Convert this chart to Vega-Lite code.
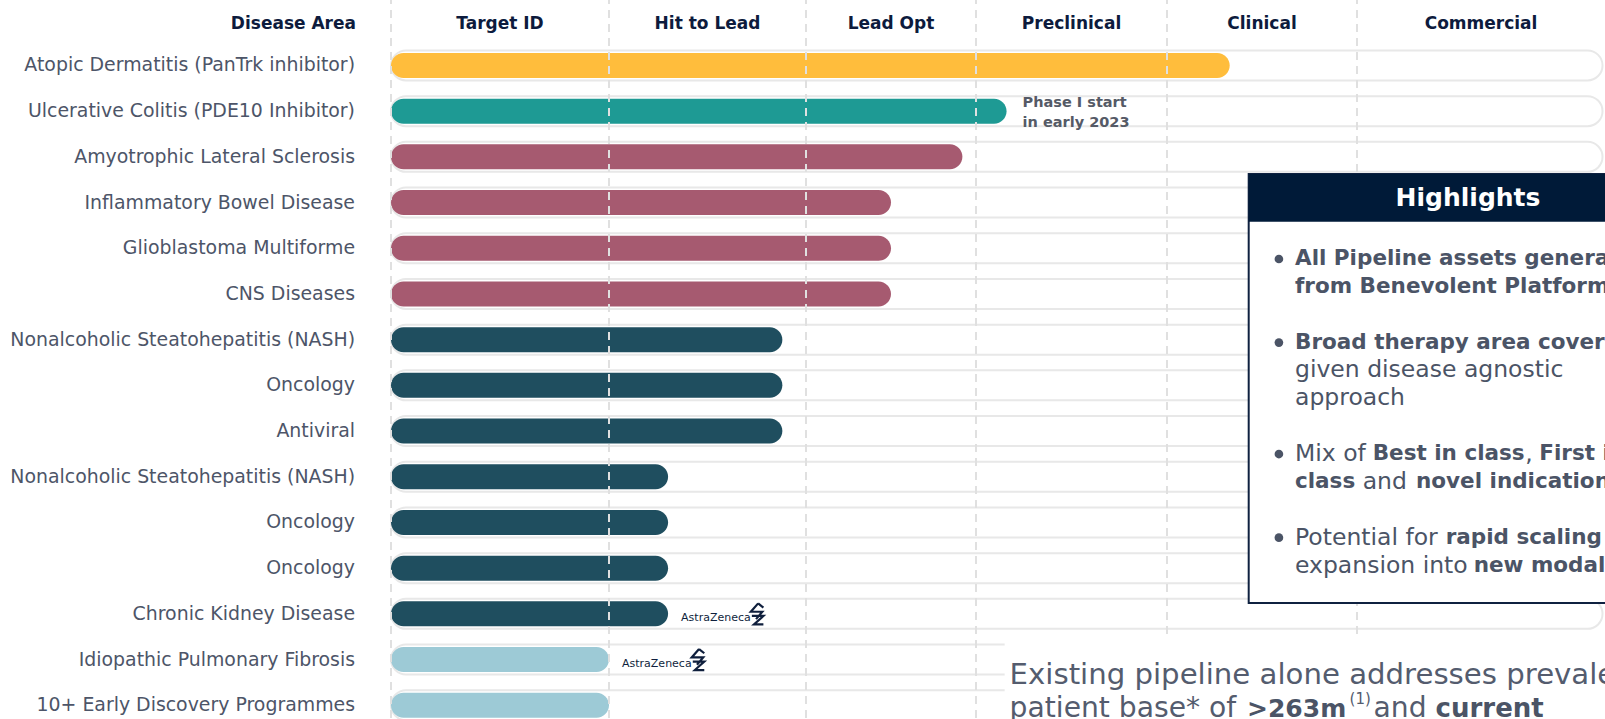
{
  "$schema": "https://vega.github.io/schema/vega-lite/v6.json",
  "autosize": {"type": "none"},
  "padding": {"left": 391, "top": 0, "right": 0, "bottom": 0},
  "width": 1214,
  "height": 719,
  "background": "white",
  "config": {"view": {"stroke": null}, "font": "DejaVu Sans", "axis": {"disable": true}},
  "datasets": {
    "pipeline": [
      {"id": "r01", "disease": "Atopic Dermatitis (PanTrk inhibitor)", "progress": 4.33, "cohort": "A"},
      {"id": "r02", "disease": "Ulcerative Colitis (PDE10 Inhibitor)", "progress": 3.16, "cohort": "B", "note": ["Phase I start", "in early 2023"]},
      {"id": "r03", "disease": "Amyotrophic Lateral Sclerosis", "progress": 2.92, "cohort": "C"},
      {"id": "r04", "disease": "Inflammatory Bowel Disease", "progress": 2.5, "cohort": "C"},
      {"id": "r05", "disease": "Glioblastoma Multiforme", "progress": 2.5, "cohort": "C"},
      {"id": "r06", "disease": "CNS Diseases", "progress": 2.5, "cohort": "C"},
      {"id": "r07", "disease": "Nonalcoholic Steatohepatitis (NASH)", "progress": 1.88, "cohort": "D"},
      {"id": "r08", "disease": "Oncology", "progress": 1.88, "cohort": "D"},
      {"id": "r09", "disease": "Antiviral", "progress": 1.88, "cohort": "D"},
      {"id": "r10", "disease": "Nonalcoholic Steatohepatitis (NASH)", "progress": 1.3, "cohort": "D"},
      {"id": "r11", "disease": "Oncology", "progress": 1.3, "cohort": "D"},
      {"id": "r12", "disease": "Oncology", "progress": 1.3, "cohort": "D"},
      {"id": "r13", "disease": "Chronic Kidney Disease", "progress": 1.3, "cohort": "D", "partner": "AstraZeneca"},
      {"id": "r14", "disease": "Idiopathic Pulmonary Fibrosis", "progress": 1.0, "cohort": "E", "partner": "AstraZeneca"},
      {"id": "r15", "disease": "10+ Early Discovery Programmes", "progress": 1.0, "cohort": "E"}
    ],
    "stages": [
      {"stage": "Target ID", "start": 0, "pos": 0.5},
      {"stage": "Hit to Lead", "start": 1, "pos": 1.5},
      {"stage": "Lead Opt", "start": 2, "pos": 2.5},
      {"stage": "Preclinical", "start": 3, "pos": 3.5},
      {"stage": "Clinical", "start": 4, "pos": 4.5},
      {"stage": "Commercial", "start": 5, "pos": 5.5}
    ],
    "rowHeader": [{"title": "Disease Area"}],
    "footer": [
      {"line": 1, "part": 1, "text": "Existing pipeline alone addresses prevalent"},
      {"line": 2, "part": 1, "text": "patient base* of"},
      {"line": 2, "part": 2, "text": ">263m"},
      {"line": 2, "part": 3, "text": "(1)"},
      {"line": 2, "part": 4, "text": "and"},
      {"line": 2, "part": 5, "text": "current"}
    ],
    "box": [{"title": "Highlights"}],
    "highlights": [
      {"ln": 0, "part": 1, "bold": true, "text": "All Pipeline assets generated"},
      {"ln": 1, "part": 1, "bold": true, "text": "from Benevolent Platform"},
      {"ln": 3, "part": 1, "bold": true, "text": "Broad therapy area coverage"},
      {"ln": 4, "part": 1, "bold": false, "text": "given disease agnostic"},
      {"ln": 5, "part": 1, "bold": false, "text": "approach"},
      {"ln": 7, "part": 1, "bold": false, "text": "Mix of"},
      {"ln": 7, "part": 2, "bold": true, "text": "Best in class"},
      {"ln": 7, "part": 3, "bold": false, "text": ","},
      {"ln": 7, "part": 4, "bold": true, "text": "First in"},
      {"ln": 8, "part": 1, "bold": true, "text": "class"},
      {"ln": 8, "part": 2, "bold": false, "text": "and"},
      {"ln": 8, "part": 3, "bold": true, "text": "novel indications"},
      {"ln": 10, "part": 1, "bold": false, "text": "Potential for"},
      {"ln": 10, "part": 2, "bold": true, "text": "rapid scaling and"},
      {"ln": 11, "part": 1, "bold": false, "text": "expansion into"},
      {"ln": 11, "part": 2, "bold": true, "text": "new modalities"}
    ]
  },
  "layer": [
    {
      "layer": [
        {
          "data": {"name": "pipeline"},
          "mark": {"type": "bar", "height": 30, "fill": "white", "stroke": "#e8e8e8", "strokeWidth": 2, "cornerRadiusEnd": 15},
          "encoding": {
            "x": {"datum": 0, "type": "quantitative", "axis": null, "scale": {"domain": [0, 1, 2, 3, 4, 5, 6], "range": [0, 218, 415, 585, 776, 966, 1214], "zero": false, "nice": false}},
            "x2": {"datum": 5.99},
            "y": {"field": "id", "type": "nominal", "sort": null, "axis": null, "scale": {"range": [42.6, 728.1], "paddingInner": 0, "paddingOuter": 0}}
          }
        },
        {
          "data": {"name": "pipeline"},
          "mark": {"type": "bar", "height": 25, "cornerRadiusEnd": 12.5},
          "encoding": {
            "x": {"field": "progress", "type": "quantitative", "axis": null},
            "x2": {"datum": 0},
            "y": {"field": "id", "type": "nominal", "sort": null, "axis": null},
            "color": {"field": "cohort", "type": "nominal", "legend": null, "scale": {"domain": ["A", "B", "C", "D", "E"], "range": ["#FFBD3C", "#1E9A94", "#A65A70", "#1F4E5F", "#9DCAD6"]}}
          }
        },
        {
          "data": {"name": "stages"},
          "mark": {"type": "rule", "color": "#e0e0e0", "strokeWidth": 2, "strokeDash": [8, 6], "strokeDashOffset": -10},
          "encoding": {"x": {"field": "start", "type": "quantitative"}}
        },
        {
          "data": {"name": "pipeline"},
          "mark": {"type": "text", "align": "right", "baseline": "middle", "dx": -36, "fontSize": 18.9, "font": "DejaVu Sans", "color": "#4d5568"},
          "encoding": {
            "x": {"datum": 0},
            "y": {"field": "id", "type": "nominal", "sort": null},
            "text": {"field": "disease", "type": "nominal"}
          }
        },
        {
          "data": {"name": "stages"},
          "mark": {"type": "text", "align": "center", "baseline": "middle", "dy": -41, "fontSize": 17, "fontWeight": "bold", "font": "DejaVu Sans", "color": "#0d1b3d"},
          "encoding": {
            "x": {"field": "pos", "type": "quantitative"},
            "y": {"datum": "r01"},
            "text": {"field": "stage", "type": "nominal"}
          }
        },
        {
          "data": {"name": "rowHeader"},
          "mark": {"type": "text", "align": "right", "baseline": "middle", "dx": -35, "dy": -41, "fontSize": 17, "fontWeight": "bold", "font": "DejaVu Sans", "color": "#0d1b3d"},
          "encoding": {
            "x": {"datum": 0},
            "y": {"datum": "r01"},
            "text": {"field": "title", "type": "nominal"}
          }
        },
        {
          "data": {"name": "pipeline"},
          "transform": [{"filter": "isValid(datum.note)"}],
          "mark": {"type": "text", "align": "left", "baseline": "middle", "dx": 16, "dy": -8.5, "fontSize": 14.5, "fontWeight": "bold", "lineHeight": 20.5, "font": "DejaVu Sans", "color": "#555a66"},
          "encoding": {
            "x": {"field": "progress", "type": "quantitative"},
            "y": {"field": "id", "type": "nominal", "sort": null},
            "text": {"field": "note"}
          }
        },
        {
          "data": {"name": "pipeline"},
          "transform": [{"filter": "isValid(datum.partner)"}],
          "mark": {"type": "text", "align": "left", "baseline": "middle", "dx": 13, "dy": 4, "fontSize": 11, "font": "DejaVu Sans", "color": "#0f1f3d"},
          "encoding": {
            "x": {"field": "progress", "type": "quantitative"},
            "y": {"field": "id", "type": "nominal", "sort": null},
            "text": {"field": "partner", "type": "nominal"}
          }
        },
        {
          "data": {"name": "pipeline"},
          "transform": [{"filter": "isValid(datum.partner)"}],
          "mark": {"type": "point", "filled": false, "size": 440, "strokeWidth": 2.2, "color": "#0f1f3d", "opacity": 1, "shape": "M0.1,-1 L-0.6,-0.2 L0.5,-0.2 L-0.1,0.5 M-0.5,0.2 L0.6,0.2 L-0.3,1 L0.6,1 M0.1,-1 L0.6,-0.6"},
          "encoding": {
            "x": {"field": "progress", "type": "quantitative"},
            "xOffset": {"value": 89},
            "y": {"field": "id", "type": "nominal", "sort": null}
          }
        },
        {
          "data": {"name": "pipeline"},
          "transform": [{"filter": "datum.id == 'r14' || datum.id == 'r15'"}],
          "mark": {"type": "rect", "fill": "white"},
          "encoding": {
            "x": {"datum": 3.15},
            "x2": {"datum": 6.4},
            "y": {"field": "id", "type": "nominal", "sort": null}
          }
        },
        {
          "data": {"name": "footer"},
          "transform": [{"filter": "datum.line == 1"}],
          "mark": {"type": "text", "align": "left", "baseline": "middle", "dx": 33.6, "dy": 15.4, "fontSize": 29.2, "font": "DejaVu Sans", "color": "#545c6e"},
          "encoding": {"x": {"datum": 3}, "y": {"datum": "r14"}, "text": {"field": "text", "type": "nominal"}}
        },
        {
          "data": {"name": "footer"},
          "transform": [{"filter": "datum.line == 2 && datum.part == 1"}],
          "mark": {"type": "text", "align": "left", "baseline": "middle", "dx": 33.6, "dy": 4, "fontSize": 28.2, "font": "DejaVu Sans", "color": "#545c6e"},
          "encoding": {"x": {"datum": 3}, "y": {"datum": "r15"}, "text": {"field": "text", "type": "nominal"}}
        },
        {
          "data": {"name": "footer"},
          "transform": [{"filter": "datum.line == 2 && datum.part == 2"}],
          "mark": {"type": "text", "align": "left", "baseline": "middle", "dx": 271, "dy": 4, "fontSize": 25, "fontWeight": "bold", "font": "DejaVu Sans", "color": "#4b5466"},
          "encoding": {"x": {"datum": 3}, "y": {"datum": "r15"}, "text": {"field": "text", "type": "nominal"}}
        },
        {
          "data": {"name": "footer"},
          "transform": [{"filter": "datum.line == 2 && datum.part == 3"}],
          "mark": {"type": "text", "align": "left", "baseline": "middle", "dx": 373.6, "dy": -6, "fontSize": 15, "font": "DejaVu Sans", "color": "#545c6e"},
          "encoding": {"x": {"datum": 3}, "y": {"datum": "r15"}, "text": {"field": "text", "type": "nominal"}}
        },
        {
          "data": {"name": "footer"},
          "transform": [{"filter": "datum.line == 2 && datum.part == 4"}],
          "mark": {"type": "text", "align": "left", "baseline": "middle", "dx": 397.6, "dy": 4, "fontSize": 28.2, "font": "DejaVu Sans", "color": "#545c6e"},
          "encoding": {"x": {"datum": 3}, "y": {"datum": "r15"}, "text": {"field": "text", "type": "nominal"}}
        },
        {
          "data": {"name": "footer"},
          "transform": [{"filter": "datum.line == 2 && datum.part == 5"}],
          "mark": {"type": "text", "align": "left", "baseline": "middle", "dx": 459.6, "dy": 4, "fontSize": 26, "fontWeight": "bold", "font": "DejaVu Sans", "color": "#4b5466"},
          "encoding": {"x": {"datum": 3}, "y": {"datum": "r15"}, "text": {"field": "text", "type": "nominal"}}
        }
      ]
    },
    {
      "layer": [
        {
          "data": {"name": "box"},
          "mark": {"type": "rect", "fill": "white", "stroke": "#0f2140", "strokeWidth": 2},
          "encoding": {
            "x": {"datum": 4.43},
            "x2": {"datum": 6.4},
            "y": {"datum": -3.05, "type": "quantitative", "axis": null, "scale": {"domain": [0, 11], "range": [259, 565.5], "zero": false, "nice": false}},
            "y2": {"datum": 12.35}
          }
        },
        {
          "data": {"name": "box"},
          "mark": {"type": "rect", "fill": "#001a38"},
          "encoding": {
            "x": {"datum": 4.43},
            "x2": {"datum": 6.4},
            "y": {"datum": -3.05, "type": "quantitative"},
            "y2": {"datum": -1.34}
          }
        },
        {
          "data": {"name": "box"},
          "mark": {"type": "text", "align": "center", "baseline": "middle", "dx": 219.3, "fontSize": 25, "fontWeight": "bold", "font": "DejaVu Sans", "color": "white"},
          "encoding": {
            "x": {"datum": 4.43},
            "y": {"datum": -2.2, "type": "quantitative"},
            "text": {"field": "title", "type": "nominal"}
          }
        },
        {
          "data": {"name": "highlights"},
          "transform": [{"filter": "datum.part == 1 && (datum.ln == 0 || datum.ln == 3 || datum.ln == 7 || datum.ln == 10)"}],
          "mark": {"type": "point", "filled": true, "size": 75, "color": "#4b5466", "opacity": 1},
          "encoding": {
            "x": {"datum": 4.589},
            "y": {"field": "ln", "type": "quantitative"}
          }
        },
        {
          "data": {"name": "highlights"},
          "transform": [{"filter": "datum.part == 1 && datum.bold"}],
          "mark": {"type": "text", "align": "left", "baseline": "middle", "dx": 46.3, "fontSize": 21.5, "fontWeight": "bold", "font": "DejaVu Sans", "color": "#4b5466"},
          "encoding": {"x": {"datum": 4.43}, "y": {"field": "ln", "type": "quantitative"}, "text": {"field": "text", "type": "nominal"}}
        },
        {
          "data": {"name": "highlights"},
          "transform": [{"filter": "datum.part == 1 && !datum.bold"}],
          "mark": {"type": "text", "align": "left", "baseline": "middle", "dx": 46.3, "fontSize": 23.5, "font": "DejaVu Sans", "color": "#4b5466"},
          "encoding": {"x": {"datum": 4.43}, "y": {"field": "ln", "type": "quantitative"}, "text": {"field": "text", "type": "nominal"}}
        },
        {
          "data": {"name": "highlights"},
          "transform": [{"filter": "datum.ln == 7 && datum.part == 2"}],
          "mark": {"type": "text", "align": "left", "baseline": "middle", "dx": 124, "fontSize": 21.5, "fontWeight": "bold", "font": "DejaVu Sans", "color": "#4b5466"},
          "encoding": {"x": {"datum": 4.43}, "y": {"field": "ln", "type": "quantitative"}, "text": {"field": "text", "type": "nominal"}}
        },
        {
          "data": {"name": "highlights"},
          "transform": [{"filter": "datum.ln == 7 && datum.part == 3"}],
          "mark": {"type": "text", "align": "left", "baseline": "middle", "dx": 276.5, "fontSize": 23.5, "font": "DejaVu Sans", "color": "#4b5466"},
          "encoding": {"x": {"datum": 4.43}, "y": {"field": "ln", "type": "quantitative"}, "text": {"field": "text", "type": "nominal"}}
        },
        {
          "data": {"name": "highlights"},
          "transform": [{"filter": "datum.ln == 7 && datum.part == 4"}],
          "mark": {"type": "text", "align": "left", "baseline": "middle", "dx": 290.6, "fontSize": 21.5, "fontWeight": "bold", "font": "DejaVu Sans", "color": "#4b5466"},
          "encoding": {"x": {"datum": 4.43}, "y": {"field": "ln", "type": "quantitative"}, "text": {"field": "text", "type": "nominal"}}
        },
        {
          "data": {"name": "highlights"},
          "transform": [{"filter": "datum.ln == 8 && datum.part == 2"}],
          "mark": {"type": "text", "align": "left", "baseline": "middle", "dx": 114, "fontSize": 23.5, "font": "DejaVu Sans", "color": "#4b5466"},
          "encoding": {"x": {"datum": 4.43}, "y": {"field": "ln", "type": "quantitative"}, "text": {"field": "text", "type": "nominal"}}
        },
        {
          "data": {"name": "highlights"},
          "transform": [{"filter": "datum.ln == 8 && datum.part == 3"}],
          "mark": {"type": "text", "align": "left", "baseline": "middle", "dx": 167.3, "fontSize": 21.5, "fontWeight": "bold", "font": "DejaVu Sans", "color": "#4b5466"},
          "encoding": {"x": {"datum": 4.43}, "y": {"field": "ln", "type": "quantitative"}, "text": {"field": "text", "type": "nominal"}}
        },
        {
          "data": {"name": "highlights"},
          "transform": [{"filter": "datum.ln == 10 && datum.part == 2"}],
          "mark": {"type": "text", "align": "left", "baseline": "middle", "dx": 197, "fontSize": 21.5, "fontWeight": "bold", "font": "DejaVu Sans", "color": "#4b5466"},
          "encoding": {"x": {"datum": 4.43}, "y": {"field": "ln", "type": "quantitative"}, "text": {"field": "text", "type": "nominal"}}
        },
        {
          "data": {"name": "highlights"},
          "transform": [{"filter": "datum.ln == 11 && datum.part == 2"}],
          "mark": {"type": "text", "align": "left", "baseline": "middle", "dx": 225, "fontSize": 21.5, "fontWeight": "bold", "font": "DejaVu Sans", "color": "#4b5466"},
          "encoding": {"x": {"datum": 4.43}, "y": {"field": "ln", "type": "quantitative"}, "text": {"field": "text", "type": "nominal"}}
        }
      ]
    }
  ],
  "resolve": {"scale": {"y": "independent"}}
}
